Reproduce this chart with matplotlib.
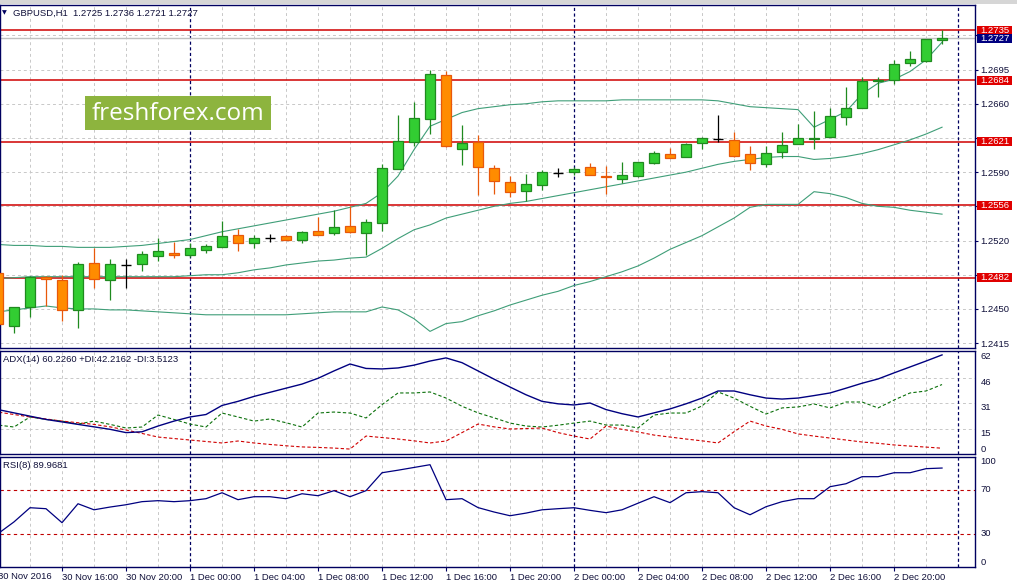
import numpy as np
import matplotlib
matplotlib.use('Agg')
import matplotlib.pyplot as plt
import matplotlib.transforms as mtransforms
from matplotlib.patches import Rectangle

plt.rcParams['font.family'] = ['Liberation Sans', 'DejaVu Sans']

# GBPUSD H1 bars, 30 Nov 12:00 .. 2 Dec 23:00
opens = [1.2487, 1.2433, 1.2452, 1.2483, 1.2480, 1.2449, 1.2497, 1.2480, 1.2495, 1.2496,
         1.2504, 1.2507, 1.2505, 1.2510, 1.2513, 1.2526, 1.2517, 1.2523, 1.2525, 1.2521,
         1.2530, 1.2528, 1.2535, 1.2528, 1.2538, 1.2593, 1.2621, 1.2644, 1.2689, 1.2614,
         1.2621, 1.2594, 1.2580, 1.2571, 1.2577, 1.2589, 1.2590, 1.2595, 1.2586, 1.2583,
         1.2586, 1.2599, 1.2609, 1.2605, 1.2620, 1.2624, 1.2623, 1.2609, 1.2598, 1.2611,
         1.2619, 1.2624, 1.2626, 1.2646, 1.2656, 1.2683, 1.2684, 1.2702, 1.2704, 1.2725]
highs = [1.2490, 1.2452, 1.2484, 1.2484, 1.2485, 1.2498, 1.2512, 1.2501, 1.2501, 1.2509,
         1.2523, 1.2518, 1.2517, 1.2516, 1.2540, 1.2532, 1.2526, 1.2527, 1.2526, 1.2530,
         1.2544, 1.2551, 1.2555, 1.2542, 1.2598, 1.2648, 1.2662, 1.2695, 1.2694, 1.2638,
         1.2628, 1.2597, 1.2586, 1.2588, 1.2592, 1.2594, 1.2595, 1.2599, 1.2596, 1.2600,
         1.2600, 1.2612, 1.2615, 1.2620, 1.2626, 1.2648, 1.2631, 1.2617, 1.2617, 1.2631,
         1.2639, 1.2653, 1.2656, 1.2677, 1.2687, 1.2687, 1.2705, 1.2714, 1.2726, 1.2736]
lows = [1.2432, 1.2425, 1.2442, 1.2453, 1.2438, 1.2430, 1.2471, 1.2459, 1.2471, 1.2489,
        1.2499, 1.2502, 1.2503, 1.2507, 1.2513, 1.2509, 1.2512, 1.2518, 1.2521, 1.2517,
        1.2526, 1.2526, 1.2528, 1.2505, 1.2530, 1.2593, 1.2617, 1.2629, 1.2616, 1.2597,
        1.2567, 1.2568, 1.2565, 1.2560, 1.2572, 1.2585, 1.2587, 1.2587, 1.2568, 1.2579,
        1.2585, 1.2598, 1.2604, 1.2605, 1.2614, 1.2621, 1.2605, 1.2592, 1.2595, 1.2604,
        1.2619, 1.2614, 1.2626, 1.2638, 1.2656, 1.2667, 1.2680, 1.2699, 1.2703, 1.2721]
closes = [1.2435, 1.2452, 1.2483, 1.2481, 1.2449, 1.2496, 1.2481, 1.2496, 1.2495, 1.2506,
          1.2509, 1.2505, 1.2512, 1.2514, 1.2525, 1.2517, 1.2523, 1.2523, 1.2521, 1.2529,
          1.2526, 1.2534, 1.2529, 1.2539, 1.2594, 1.2622, 1.2645, 1.2690, 1.2617, 1.2620,
          1.2595, 1.2581, 1.2570, 1.2578, 1.2590, 1.2589, 1.2593, 1.2587, 1.2585, 1.2587,
          1.2600, 1.2610, 1.2604, 1.2619, 1.2625, 1.2624, 1.2607, 1.2599, 1.2610, 1.2618,
          1.2625, 1.2625, 1.2647, 1.2656, 1.2683, 1.2684, 1.2701, 1.2706, 1.2726, 1.2727]

# Bollinger bands
bb_upper = [1.2516, 1.2515, 1.2515, 1.2514, 1.2514, 1.2513, 1.2513, 1.2513, 1.2514, 1.2515,
            1.2517, 1.2519, 1.2521, 1.2525, 1.2529, 1.2532, 1.2535, 1.2538, 1.2541, 1.2544,
            1.2547, 1.2550, 1.2554, 1.2558, 1.2569, 1.2586, 1.2613, 1.2637, 1.2644, 1.2651,
            1.2655, 1.2657, 1.2659, 1.2660, 1.2662, 1.2663, 1.2663, 1.2663, 1.2663, 1.2664,
            1.2664, 1.2664, 1.2664, 1.2664, 1.2664, 1.2663, 1.2660, 1.2657, 1.2656, 1.2655,
            1.2654, 1.2636, 1.2644, 1.2652, 1.2670, 1.2681, 1.2685, 1.2693, 1.2705, 1.2723]
bb_middle = [1.2481, 1.2482, 1.2483, 1.2483, 1.2483, 1.2483, 1.2483, 1.2483, 1.2483, 1.2483,
             1.2483, 1.2483, 1.2484, 1.2485, 1.2485, 1.2487, 1.2490, 1.2492, 1.2495, 1.2497,
             1.2499, 1.2500, 1.2502, 1.2503, 1.2512, 1.2522, 1.2531, 1.2536, 1.2543, 1.2547,
             1.2551, 1.2555, 1.2558, 1.2560, 1.2563, 1.2566, 1.2569, 1.2572, 1.2575, 1.2578,
             1.2581, 1.2584, 1.2587, 1.2590, 1.2594, 1.2598, 1.2601, 1.2603, 1.2605, 1.2606,
             1.2606, 1.2603, 1.2604, 1.2606, 1.2609, 1.2613, 1.2618, 1.2623, 1.2629, 1.2636]
bb_lower = [1.2447, 1.2449, 1.2451, 1.2453, 1.2451, 1.2450, 1.2450, 1.2449, 1.2449, 1.2448,
            1.2447, 1.2446, 1.2445, 1.2444, 1.2444, 1.2444, 1.2444, 1.2444, 1.2444, 1.2445,
            1.2446, 1.2447, 1.2447, 1.2447, 1.2452, 1.2449, 1.2440, 1.2427, 1.2435, 1.2437,
            1.2443, 1.2448, 1.2454, 1.2459, 1.2464, 1.2468, 1.2474, 1.2478, 1.2483, 1.2488,
            1.2494, 1.2502, 1.2511, 1.2518, 1.2525, 1.2534, 1.2543, 1.2554, 1.2557, 1.2557,
            1.2557, 1.2570, 1.2568, 1.2564, 1.2558, 1.2555, 1.2554, 1.2551, 1.2549, 1.2547]

# ADX(14)
adx = [27.0, 25.0, 23.0, 21.0, 19.5, 18.0, 16.5, 15.0, 13.0, 13.5,
       17.0, 20.0, 22.5, 24.0, 29.5, 32.0, 35.0, 37.5, 40.0, 42.5,
       46.0, 50.5, 54.7, 52.0, 51.7, 52.3, 54.0, 56.5, 58.4, 55.5,
       50.5, 45.5, 40.7, 36.0, 32.0, 30.5, 29.8, 31.0, 27.0, 24.5,
       22.5, 25.0, 27.4, 30.5, 34.0, 38.3, 38.3, 36.0, 34.0, 33.4,
       34.0, 35.5, 37.1, 40.0, 43.0, 45.6, 49.3, 52.9, 56.5, 60.226]
plus_di = [17.6, 16.4, 22.5, 21.0, 20.0, 18.2, 20.0, 18.0, 15.8, 16.4,
           23.7, 21.0, 18.2, 16.4, 24.9, 22.5, 20.0, 21.3, 19.0, 16.4,
           24.9, 25.5, 24.9, 21.9, 30.0, 37.1, 37.1, 37.7, 34.0, 29.0,
           25.0, 22.0, 18.8, 17.0, 16.4, 17.5, 18.8, 20.0, 17.6, 17.6,
           15.8, 23.7, 24.9, 24.9, 29.2, 37.7, 34.0, 29.0, 24.3, 28.0,
           28.6, 30.4, 28.0, 31.6, 31.6, 28.0, 32.8, 37.1, 38.3, 42.216]
minus_di = [25.5, 24.0, 22.5, 21.3, 20.0, 19.0, 18.0, 16.5, 14.6, 12.5,
            10.3, 9.4, 8.5, 7.6, 6.7, 7.9, 6.7, 5.8, 5.0, 4.3,
            4.0, 3.6, 3.0, 10.9, 10.0, 9.1, 8.0, 6.7, 7.9, 13.0,
            18.2, 16.5, 15.2, 15.5, 15.8, 13.0, 10.9, 9.1, 17.0, 15.0,
            13.4, 11.5, 10.3, 9.1, 8.0, 6.7, 13.5, 20.0, 17.0, 15.0,
            12.2, 10.9, 9.7, 8.5, 7.3, 6.5, 5.5, 4.8, 4.2, 3.512]

# RSI(8)
rsi = [30.3, 41.0, 53.9, 53.0, 40.3, 57.5, 52.0, 54.5, 56.6, 59.4,
       60.3, 59.4, 60.3, 62.1, 67.5, 61.2, 63.9, 63.9, 62.1, 66.6,
       64.8, 69.4, 63.9, 69.4, 85.7, 88.0, 90.5, 93.0, 61.2, 62.1,
       54.0, 50.0, 46.6, 49.0, 52.0, 53.0, 53.9, 51.5, 49.4, 52.0,
       58.0, 63.9, 58.5, 67.5, 68.5, 67.5, 53.9, 47.5, 54.8, 59.4,
       62.1, 62.1, 73.0, 75.7, 82.1, 82.1, 85.7, 85.7, 89.4, 89.968]

levels = [1.2735, 1.2684, 1.2621, 1.2556, 1.2482]
last_price = 1.2727
price_ticks = [1.2415, 1.2450, 1.2485, 1.2520, 1.2555, 1.2590, 1.2625, 1.2660, 1.2695, 1.2730]
adx_ticks = [0, 15, 31, 46, 62]
rsi_ticks = [0, 30, 70, 100]
rsi_levels = [30, 70]
time_ticks = [0, 4, 8, 12, 16, 20, 24, 28, 32, 36, 40, 44, 48, 52, 56]
time_labels = ['30 Nov 2016', '30 Nov 16:00', '30 Nov 20:00', '1 Dec 00:00', '1 Dec 04:00',
               '1 Dec 08:00', '1 Dec 12:00', '1 Dec 16:00', '1 Dec 20:00', '2 Dec 00:00',
               '2 Dec 04:00', '2 Dec 08:00', '2 Dec 12:00', '2 Dec 16:00', '2 Dec 20:00']
day_breaks = [12, 36, 60]

NAVY = '#000060'
TXT = '#10103a'
GRID = '#c8c8c8'
RED = '#d00000'
BULL, BULL_EDGE = '#32cd32', '#1f8a1f'
BEAR, BEAR_EDGE = '#ff8c00', '#e8580a'
BB = '#3f9e78'
FS = 6.8

W, H = 1017, 585
fig = plt.figure(figsize=(W / 100, H / 100), dpi=100)
fig.patch.set_facecolor('white')


def px_axes(x0, y0, x1, y1):
    return fig.add_axes([x0 / W, 1 - y1 / H, (x1 - x0) / W, (y1 - y0) / H])


ax = px_axes(0, 4.5, 975, 348)
ax_adx = px_axes(0, 351, 975, 454)
ax_rsi = px_axes(0, 457, 975, 567)

idx = np.arange(len(opens))
o, h, l, c = (np.array(v) for v in (opens, highs, lows, closes))
xlim = (0.125, 61.06)

for a in (ax, ax_adx, ax_rsi):
    a.set_xlim(*xlim)
    a.set_facecolor('white')
    for s in a.spines.values():
        s.set_color(NAVY)
        s.set_linewidth(1.0)
    a.yaxis.tick_right()
    a.tick_params(axis='y', direction='out', length=2.5, width=0.8, color=NAVY,
                  labelsize=FS, labelcolor=TXT, pad=1.5)
    for i in range(2, 60, 2):
        if i not in day_breaks:
            a.axvline(i, color=GRID, lw=0.7, ls=(0, (3, 3)), zorder=0)
    for d in day_breaks:
        a.axvline(d, color=NAVY, lw=0.9, ls=(0, (2.5, 2)), zorder=1)
    a.set_xticks([])

# ---- price panel
ax.set_ylim(1.24100, 1.27616)
ppx = (1.27616 - 1.24100) / 343.5
for p in price_ticks:
    ax.axhline(p, color=GRID, lw=0.7, ls=(0, (3, 3)), zorder=0)
ax.set_yticks(price_ticks)
# tick labels sitting under a level label are hidden by it in the terminal
covered = [p for p in price_ticks
           if any(abs(p - v) < 9 * ppx for v in levels + [last_price])]
ax.set_yticklabels(['' if p in covered else f'{p:.4f}' for p in price_ticks])

ax.axhline(last_price, color='#c0c0c0', lw=1.0, zorder=1)
for lv in levels:
    ax.axhline(lv, color=RED, lw=1.1, zorder=1.5)

ax.plot(idx, bb_upper, color=BB, lw=0.8, zorder=2)
ax.plot(idx, bb_middle, color=BB, lw=0.8, zorder=2)
ax.plot(idx, bb_lower, color=BB, lw=0.8, zorder=2)

up = c > o
dn = c < o
dj = c == o
bw = 0.68
ax.vlines(idx[up], l[up], h[up], color=BULL_EDGE, lw=0.9, zorder=3)
ax.vlines(idx[dn], l[dn], h[dn], color=BEAR_EDGE, lw=0.9, zorder=3)
ax.vlines(idx[dj], l[dj], h[dj], color='black', lw=0.9, zorder=3)
ax.bar(idx[up], (c - o)[up], bottom=o[up], width=bw, color=BULL,
       edgecolor=BULL_EDGE, linewidth=0.9, zorder=4)
ax.bar(idx[dn], (o - c)[dn], bottom=c[dn], width=bw, color=BEAR,
       edgecolor=BEAR_EDGE, linewidth=0.9, zorder=4)
ax.hlines(c[dj], idx[dj] - bw / 2, idx[dj] + bw / 2, color='black', lw=1.0, zorder=4)

# price labels on the right axis
trans = mtransforms.blended_transform_factory(ax.transAxes, ax.transData)
box_x0, box_w = 977 / 975, 35 / 975


def price_box(val, fc):
    ax.add_patch(Rectangle((box_x0, val - 4.6 * ppx), box_w, 9.2 * ppx, transform=trans,
                           facecolor=fc, edgecolor='none', clip_on=False, zorder=10))
    ax.text(box_x0 + box_w / 2, val, f'{val:.4f}', transform=trans, color='white',
            fontsize=FS, ha='center', va='center', clip_on=False, zorder=11)


for lv in levels:
    price_box(lv, '#e00000')
price_box(last_price, '#000080')

ax.text(13 / 975, 1 - 8.5 / 343.5, 'GBPUSD,H1  1.2725 1.2736 1.2721 1.2727',
        transform=ax.transAxes, fontsize=FS, color=TXT, va='center', ha='left')
ax.text(4.5 / 975, 1 - 8.5 / 343.5, '\u25bc', transform=ax.transAxes, fontsize=4.5,
        color=NAVY, va='center', ha='center', family='DejaVu Sans')

# ---- ADX panel
ax_adx.set_ylim(0, 62.6)
for g in adx_ticks[1:-1]:
    ax_adx.axhline(g, color=GRID, lw=0.7, ls=(0, (3, 3)), zorder=0)
ax_adx.plot(idx, adx, color='#000080', lw=1.0, zorder=3)
ax_adx.plot(idx, plus_di, color='#0a700a', lw=0.8, ls=(0, (3, 2)), zorder=2)
ax_adx.plot(idx, minus_di, color=RED, lw=0.8, ls=(0, (3, 2)), zorder=2)
ax_adx.set_yticks(adx_ticks)
ax_adx.set_yticklabels([str(t) for t in adx_ticks])
for t, lab in zip(adx_ticks, ax_adx.get_yticklabels()):
    lab.set_va('bottom' if t == 0 else 'top')
ax_adx.tick_params(axis='y', length=0, pad=4)
ax_adx.text(3 / 975, 1 - 8 / 103, 'ADX(14) 60.2260 +DI:42.2162 -DI:3.5123',
            transform=ax_adx.transAxes, fontsize=FS, color=TXT, va='center', ha='left')

# ---- RSI panel
ax_rsi.set_ylim(0, 100)
for lv in rsi_levels:
    ax_rsi.axhline(lv, color='#c00000', lw=0.8, ls=(0, (3, 3)), zorder=1)
ax_rsi.plot(idx, rsi, color='#000080', lw=0.9, zorder=3)
ax_rsi.set_yticks(rsi_ticks)
ax_rsi.set_yticklabels([str(t) for t in rsi_ticks])
for t, lab in zip(rsi_ticks, ax_rsi.get_yticklabels()):
    lab.set_va('top' if t == 100 else ('bottom' if t == 0 else 'center'))
ax_rsi.tick_params(axis='y', length=0, pad=4)
ax_rsi.text(3 / 975, 1 - 9 / 110, 'RSI(8) 89.9681',
            transform=ax_rsi.transAxes, fontsize=FS, color=TXT, va='center', ha='left')

# time axis
ax_rsi.set_xticks(time_ticks[1:])
ax_rsi.set_xticklabels(time_labels[1:], ha='left')
ax_rsi.tick_params(axis='x', direction='out', length=3, width=0.8, color=NAVY,
                   labelsize=FS, labelcolor=TXT, pad=1.5)
ax_rsi.text(time_ticks[0], -0.045, time_labels[0],
            transform=mtransforms.blended_transform_factory(ax_rsi.transData, ax_rsi.transAxes),
            fontsize=FS, color=TXT, ha='left', va='top', clip_on=False)

# window border strip and watermark
fig.add_artist(Rectangle((0, 1 - 3.5 / H), 1, 3.5 / H, transform=fig.transFigure,
                         facecolor='#d6d6d6', edgecolor='none'))
fig.add_artist(Rectangle((85 / W, 1 - 130 / H), 186 / W, 34 / H, transform=fig.transFigure,
                         facecolor='#8db43e', edgecolor='none'))
fig.text(178 / W, 1 - 114 / H, 'freshforex.com', color='white', fontsize=17.5,
         family=['Open Sans', 'DejaVu Sans'], ha='center', va='center')

fig.savefig('out.png', dpi=100)
